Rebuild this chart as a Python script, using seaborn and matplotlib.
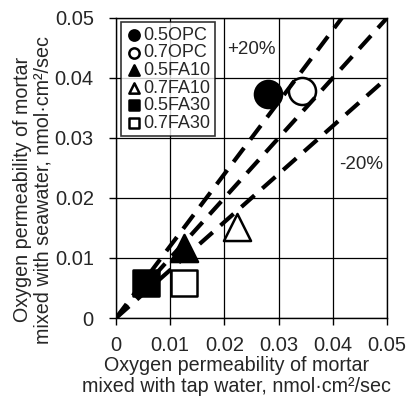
import numpy as np
import pandas as pd
import matplotlib
matplotlib.use("Agg")
import matplotlib.pyplot as plt
import seaborn as sns

# Measured oxygen permeability (nmol·cm²/sec)
mixes = ["0.5OPC", "0.7OPC", "0.5FA10", "0.7FA10", "0.5FA30", "0.7FA30"]
tap_water = [0.0280, 0.0343, 0.0125, 0.0223, 0.0055, 0.0125]
seawater = [0.0373, 0.0378, 0.0117, 0.0152, 0.0058, 0.0058]
marker_shapes = ["o", "o", "^", "^", "s", "s"]
marker_fill = ["black", "white", "black", "white", "black", "white"]

# Reference lines: +20 %, equality, -20 %
ratios = [1.2, 1.0, 0.8]
ticks = [0, 0.01, 0.02, 0.03, 0.04, 0.05]
tick_labels = ["0", "0.01", "0.02", "0.03", "0.04", "0.05"]

sns.set_theme(style="white")
plt.rcParams["font.family"] = ["Liberation Sans", "DejaVu Sans"]

fig = plt.figure(figsize=(4.07, 3.98), dpi=100)
ax = fig.add_axes([0.285, 0.201, 0.666, 0.754])

df = pd.DataFrame({"tap": tap_water, "sea": seawater, "mix": mixes})
for i, row in df.iterrows():
    sns.scatterplot(x=[row.tap], y=[row.sea], marker=marker_shapes[i],
                    s=380 if marker_shapes[i] != "s" else 330,
                    color=marker_fill[i], edgecolor="black", linewidth=1.8,
                    label=row.mix, ax=ax, zorder=3, legend=True)

for r in ratios:
    xs = np.array([0, min(0.05, 0.05 / r)])
    sns.lineplot(x=xs, y=xs * r, color="black", lw=3.0,
                 dashes=False, ax=ax, zorder=4, legend=False,
                 linestyle=(0, (4.2, 2.5)))

ax.set_xlim(0, 0.05)
ax.set_ylim(0, 0.05)
ax.set_xticks(ticks)
ax.set_yticks(ticks)
ax.set_xticklabels(tick_labels, fontsize=14.5)
ax.set_yticklabels(tick_labels, fontsize=14.5)
ax.grid(True, color="black", lw=0.9)
for sp in ax.spines.values():
    sp.set_color("black")
    sp.set_linewidth(1.0)
ax.tick_params(axis="y", direction="out", length=5, width=1, color="black",
               pad=11, left=True)
ax.tick_params(axis="x", direction="out", length=5, width=1, color="black",
               pad=8, bottom=True)

ax.set_xlabel("Oxygen permeability of mortar\nmixed with tap water, nmol\u00b7cm\u00b2/sec",
              fontsize=14.2, linespacing=1.1)
ax.set_ylabel("Oxygen permeability of mortar\nmixed with seawater, nmol\u00b7cm\u00b2/sec",
              fontsize=14.2, linespacing=1.1)
ax.xaxis.set_label_coords(0.445, -0.128)
ax.yaxis.set_label_coords(-0.235, 0.427)

ax.text(0.0205, 0.0447, "+20%", fontsize=13.5, va="center", ha="left")
ax.text(0.0412, 0.0255, "-20%", fontsize=13.5, va="center", ha="left")

leg = ax.legend(loc="upper left", bbox_to_anchor=(0.0, 1.0), fontsize=13,
                frameon=True, fancybox=False, edgecolor="black",
                handletextpad=0.0, borderpad=0.25, labelspacing=0.03,
                handlelength=1.0, markerscale=0.38, borderaxespad=0.25)
leg.get_frame().set_linewidth(1.2)

fig.savefig("out.png", dpi=100)
